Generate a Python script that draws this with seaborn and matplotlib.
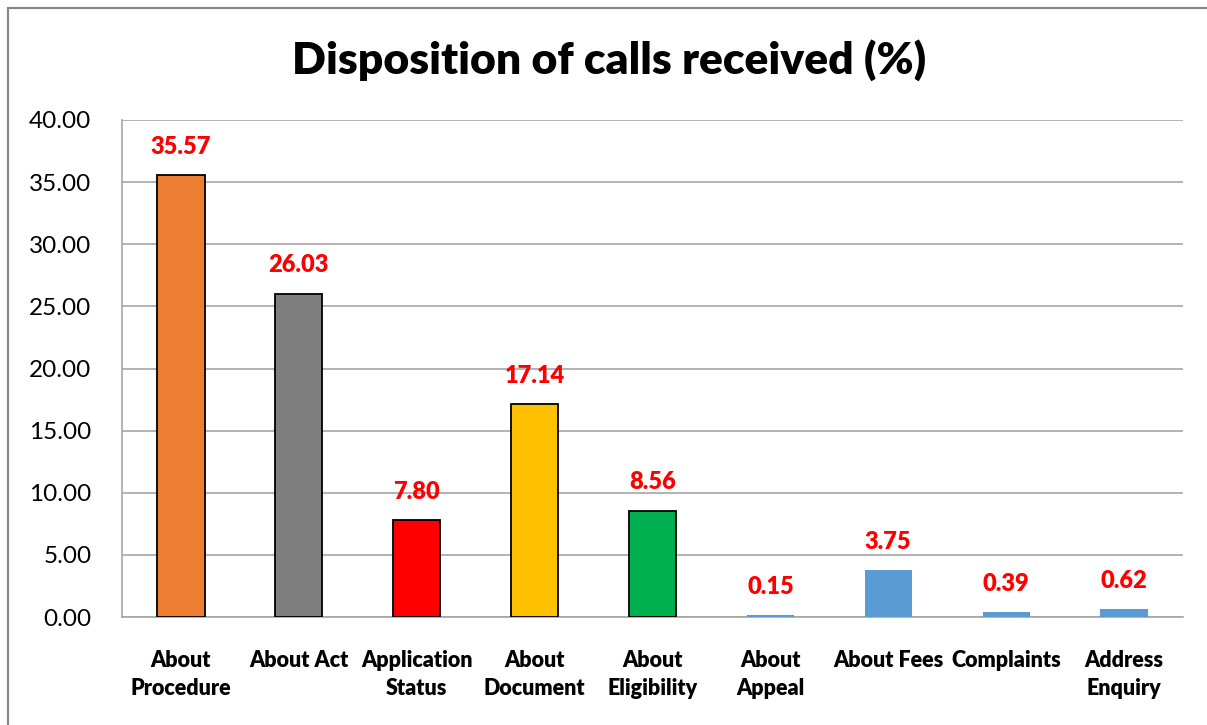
import matplotlib
matplotlib.use("Agg")
import matplotlib.pyplot as plt
import pandas as pd
import seaborn as sns
from matplotlib.patches import Rectangle

categories = ["About\nProcedure", "About Act", "Application\nStatus", "About\nDocument",
              "About\nEligibility", "About\nAppeal", "About Fees", "Complaints", "Address\nEnquiry"]
values = [35.57, 26.03, 7.80, 17.14, 8.56, 0.15, 3.75, 0.39, 0.62]
bar_colors = ["#ED7D31", "#7F7F7F", "#FF0000", "#FFC000", "#00B050",
              "#5B9BD5", "#5B9BD5", "#5B9BD5", "#5B9BD5"]
edged = [True, True, True, True, True, False, False, False, False]
yticks = [0, 5, 10, 15, 20, 25, 30, 35, 40]

sns.set_theme(style="white")
plt.rcParams['font.family'] = ['Lato', 'DejaVu Sans']
plt.rcParams['text.color'] = 'black'
plt.rcParams['xtick.color'] = 'black'
plt.rcParams['ytick.color'] = 'black'

df = pd.DataFrame({"category": categories, "value": values})

fig = plt.figure(figsize=(12.07, 7.25), dpi=100)
ax = fig.add_axes([122 / 1207, 1 - 617 / 725, (1183 - 122) / 1207, (617 - 120) / 725])

sns.barplot(data=df, x="category", y="value", hue="category", palette=bar_colors,
            saturation=1, legend=False, width=0.4, ax=ax, zorder=3)

for patch, e in zip(ax.patches, edged):
    if e:
        patch.set_edgecolor("black")
        patch.set_linewidth(1.3)
    else:
        patch.set_linewidth(0)

for i, v in enumerate(values):
    ax.text(i, v + 1.4, f"{v:.2f}", ha="center", va="bottom", color="#FF0000",
            fontsize=17, fontweight="heavy")

ax.set_ylim(0, 40)
ax.set_xlim(-0.5, len(categories) - 0.5)
ax.set_yticks(yticks)
ax.set_yticklabels([f"{t:.2f}" for t in yticks], fontsize=17.5)
ax.set_xticks(range(len(categories)))
ax.set_xticklabels(categories, fontsize=15.5, fontweight="heavy", linespacing=1.4)
ax.tick_params(axis="x", length=0, pad=24)
ax.tick_params(axis="y", length=0, pad=22)
ax.set_xlabel("")
ax.set_ylabel("")
ax.yaxis.grid(True, color="#A6A6A6", linewidth=1.2, zorder=0)
for side in ["top", "right"]:
    ax.spines[side].set_visible(False)
for side in ["left", "bottom"]:
    ax.spines[side].set_color("#A6A6A6")
    ax.spines[side].set_linewidth(1.2)

fig.text(0.505, 1 - 60 / 725, "Disposition of calls received (%)", ha="center", va="center",
         fontsize=32, fontweight="heavy")

# outer chart border
fig.patches.append(Rectangle((8 / 1207, -0.1), 1.2, 1 - 8 / 725 + 0.1, transform=fig.transFigure,
                             fill=False, edgecolor="#868686", linewidth=1.5))

fig.savefig("out.png", dpi=100)
